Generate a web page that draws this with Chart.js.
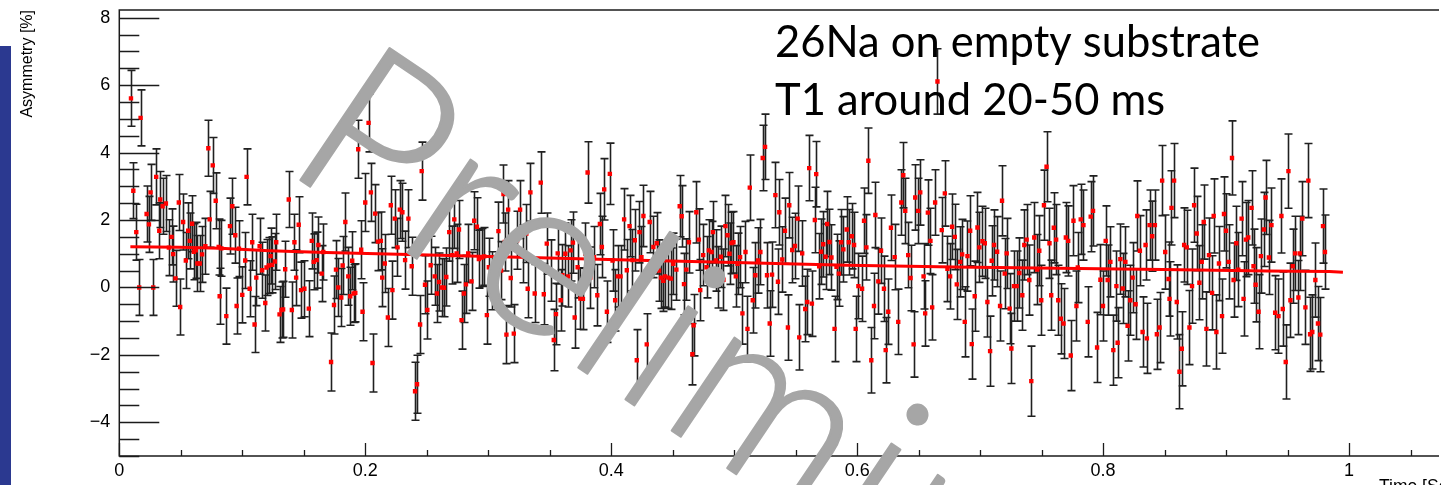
<!DOCTYPE html>
<html>
<head>
<meta charset="utf-8">
<title>26Na asymmetry vs time</title>
<script src="https://cdn.jsdelivr.net/npm/chart.js@4/dist/chart.umd.min.js"></script>
<style>
  html, body { margin: 0; padding: 0; background: #fff; overflow: hidden; }
  canvas { display: block; }
</style>
</head>
<body>
<canvas id="c" width="1441" height="485"></canvas>
<script>
// Bin centres of the asymmetry histogram, in milliseconds
const binTimeMs = [
  9.5,11.4,13.8,16.2,17.3,22.2,24.1,25.4,27.6,30.0,
  32.5,33.3,35.2,37.9,40.3,42.5,43.8,45.7,48.4,49.5,
  51.9,54.1,56.0,57.3,59.2,60.6,62.2,63.5,65.4,67.3,
  70.0,72.4,73.5,76.0,78.4,80.8,81.6,83.0,87.0,90.0,
  91.9,94.3,95.4,97.3,100.0,102.4,103.5,106.0,108.1,110.0,
  111.4,114.1,116.2,118.7,119.7,121.6,123.0,124.3,126.5,127.6,
  130.3,131.9,133.2,134.9,137.8,140.3,142.4,143.8,145.9,147.8,
  150.5,154.1,156.5,158.1,160.5,161.9,164.6,165.9,
  172.2,174.6,176.2,178.1,180.5,181.6,183.8,186.2,187.8,189.4,
  190.5,191.9,194.3,196.7,197.8,200.0,202.7,204.6,205.9,208.1,
  210.3,212.7,213.8,215.9,218.4,220.8,222.1,224.0,226.2,228.1,
  230.2,232.4,235.1,237.8,240.5,242.1,244.6,245.9,248.6,250.5,
  253.2,256.5,258.3,260.0,262.1,264.0,265.9,268.3,270.8,272.4,
  274.3,276.2,278.3,280.2,281.9,283.7,286.4,288.6,290.8,292.4,
  294.6,296.7,298.9,300.5,303.2,308.3,310.5,312.4,313.5,314.8,
  316.2,318.3,320.8,323.5,325.9,328.1,331.0,332.1,334.3,337.8,
  342.7,345.2,347.6,350.8,353.3,355.1,356.5,358.9,360.3,362.7,
  364.9,367.0,368.9,370.3,372.7,374.9,377.0,378.9,380.8,383.0,
  386.0,388.7,390.8,392.4,394.3,396.5,398.9,401.1,403.2,405.4,
  407.6,410.5,412.7,414.9,417.3,419.2,420.8,423.0,424.6,426.2,
  428.9,431.3,434.3,437.0,438.9,440.5,442.4,443.8,446.5,448.6,
  450.5,453.0,455.7,457.3,459.2,461.1,463.2,466.0,467.0,469.2,
  471.3,472.4,474.8,477.5,479.4,481.6,482.7,485.1,487.0,489.2,
  491.3,492.9,494.6,496.2,497.8,499.4,501.3,502.7,504.8,506.7,
  509.2,510.8,
  512.7,515.1,517.2,519.4,521.3,523.2,525.1,526.7,528.9,530.8,
  533.5,535.6,536.7,539.1,541.3,543.7,544.8,547.2,549.4,551.6,
  552.9,555.3,557.8,559.4,561.0,563.2,565.6,566.7,569.1,570.7,
  572.4,574.3,575.6,577.5,579.1,581.6,583.2,585.1,587.0,588.8,
  591.5,593.2,595.6,597.5,598.8,601.0,604.0,605.6,607.5,609.1,
  611.5,613.7,614.8,617.2,619.4,621.8,623.2,625.3,627.5,630.5,
  633.4,635.9,637.5,639.1,641.5,643.4,645.9,647.2,649.6,651.3,
  654.0,655.3,657.5,659.6,661.0,663.4,665.3,668.8,671.3,673.4,
  675.6,677.2,679.4,681.0,
  683.8,685.4,687.5,689.7,691.9,693.2,695.6,697.8,699.4,701.9,
  703.8,705.9,708.1,709.4,711.3,713.8,716.2,717.8,720.0,721.6,
  724.0,725.4,727.5,729.7,731.9,734.3,735.9,737.8,740.0,741.6,
  744.0,746.4,748.1,749.7,751.9,754.0,756.4,757.8,759.9,761.8,
  763.5,765.6,767.8,769.7,771.6,773.7,775.9,778.3,779.4,781.8,
  784.0,787.5,789.9,791.8,795.1,797.8,799.9,802.1,803.7,805.9,
  808.3,810.8,811.8,814.0,815.9,818.1,819.9,822.1,824.0,826.4,
  827.8,829.9,832.1,834.5,835.6,837.8,839.9,842.1,843.7,845.9,
  848.0,850.5,
  853.2,854.0,855.6,857.7,859.9,862.1,864.0,865.9,868.0,870.2,
  872.3,874.0,876.1,878.3,880.2,881.8,884.0,886.1,888.6,889.9,
  892.1,894.2,896.7,898.3,899.9,902.1,904.8,906.1,908.3,909.9,
  912.6,914.2,916.1,918.0,920.7,922.3,924.0,926.4,928.3,930.7,
  932.1,934.8,936.9,939.9,942.6,945.0,946.1,948.5,950.7,952.3,
  954.2,956.1,958.8,959.9,962.0,964.5,966.9,968.3,970.1,972.6,
  974.7,976.6,978.8,980.4
];

// Measured beta asymmetry per bin, in percent
const asymmetry = [
  5.61,2.87,1.64,0,5.03,2.18,1.87,2.82,0,3.28,
  1.68,2.61,2.41,2.49,1.18,1.50,0.99,0.27,2.52,-0.58,
  1.94,0.80,1.68,1.38,1.89,1.06,1.10,0.71,0.71,0.98,
  1.22,4.13,2.02,3.62,2.57,1.20,-0.26,1.16,-0.85,1.82,
  2.41,1.55,-0.55,1.15,-0.22,0.80,3.28,-0.04,1.34,-1.10,
  0.29,1.22,0.51,-0.46,0.59,0.65,0.93,0.67,0.77,1.34,
  -0.80,-0.67,-0.65,0.54,2.61,-0.67,1.34,0.29,1.86,-0.08,
  -0.04,-0.63,1.38,0.76,0.81,1.26,0.41,1.05,
  -2.21,-0.52,0.53,0.00,-0.30,0.65,1.94,0.33,-0.26,0.79,
  -0.18,-0.16,4.10,1.12,-0.72,2.52,4.88,2.82,-2.24,2.19,
  1.36,1.38,0.29,0.71,-0.89,2.44,-0.08,2.04,1.19,2.31,
  2.23,0.81,2.04,0.63,-3.08,-2.87,-1.10,3.45,0.08,-0.67,
  0.66,0.33,-0.18,0.16,0.00,-0.01,0.31,1.64,0.96,2.02,
  1.01,1.72,-0.97,-0.18,0.09,1.01,0.18,1.98,1.80,0.84,
  0.89,0.92,-0.82,0.60,0.20,1.67,0.50,2.77,1.35,-1.40,
  2.31,0.28,-1.37,1.40,2.31,1.00,1.60,-0.04,2.82,-0.18,
  3.11,-0.20,1.30,0.50,-1.56,-0.79,1.01,-0.38,0.36,1.00,
  0.33,1.10,1.33,-0.89,0.60,-0.33,-0.34,1.00,3.41,0.29,
  0.90,-0.23,1.88,1.20,2.91,-0.72,3.37,0.80,-0.38,0.33,
  0.33,2.02,0.51,1.82,0.81,1.40,-2.16,1.64,0.90,2.12,
  -1.69,1.94,1.20,1.31,0.50,0.29,0.20,0.33,0.29,0.26,
  0.70,0.53,2.41,2.11,0.10,0.53,1.34,-1.98,-1.12,2.23,
  1.42,-0.08,0.96,0.60,1.10,1.05,1.64,0.80,0.30,0.91,
  0.23,1.82,1.55,1.00,1.32,1.34,0.33,0.70,0.90,-0.77,
  1.05,-1.23,
  2.96,-0.38,0.36,0.80,1.05,3.84,4.17,0.36,-1.07,0.38,
  2.74,0.17,2.23,0.83,1.68,-1.19,2.44,1.11,1.23,2.04,
  -1.48,1.01,-0.64,-0.43,3.54,-0.48,2.00,3.36,0.63,1.06,
  1.28,0.91,1.88,1.35,0.89,-1.23,0.61,0.41,1.34,1.13,
  1.72,1.34,1.52,1.26,-1.23,0.04,-0.04,1.98,1.19,3.76,
  -2.16,-0.55,2.15,0.18,1.09,-0.04,-1.86,-0.72,1.77,0.90,
  -1.02,2.52,3.33,2.27,0.96,0.28,-1.69,2.67,2.27,2.82,
  0.33,-0.77,2.22,1.38,-0.59,2.52,6.11,1.70,2.79,0.55,
  0.33,1.80,1.50,0.09,
  0.76,0.98,-1.02,0.93,1.68,-1.68,-0.26,1.78,1.19,1.37,
  1.31,-0.43,-1.89,0.79,1.26,1.06,-0.55,2.57,0.41,1.01,
  -0.63,-1.81,0.04,0.04,0.43,-0.23,1.26,1.42,0.22,-2.78,
  1.48,0.53,1.09,-0.38,2.44,3.58,1.31,-0.23,1.77,1.42,
  -0.38,-0.93,-1.07,1.48,1.38,-2.02,1.98,-0.55,0.59,2.02,
  1.85,-1.02,2.10,2.27,-1.78,0.23,-0.55,1.38,0.22,0.76,
  -1.86,0.04,-1.64,0.84,-0.03,0.76,-1.14,-0.38,0.29,-0.50,
  2.12,1.09,-1.32,1.26,-1.51,1.85,1.52,1.85,-1.39,-1.19,
  3.17,1.05,
  0.25,-0.34,2.36,3.17,-0.43,-2.50,-1.82,1.26,1.19,-1.19,
  0.04,2.44,1.60,0.14,0.76,1.94,-1.23,0.96,-0.16,2.12,
  -1.32,0.71,-0.85,2.18,1.68,0.76,3.84,0.22,1.31,0.53,
  2.04,-0.34,1.42,1.48,2.36,0.63,0.08,-0.72,0.93,1.72,
  2.67,0.89,1.85,-0.75,-0.85,2.12,-0.64,-2.21,3.45,-0.38,
  0.63,1.01,-0.30,1.01,2.04,-0.59,3.17,-1.39,-1.32,0.22,
  -1.07,-1.40,1.82,1.05
];

// Statistical error (percent) by time window: window start [s] and error size
const errorWindowStartS = [0, 0.17, 0.34, 0.51, 0.68, 0.85];
const errorWindowValue  = [0.83, 0.86, 0.91, 0.97, 1.04, 1.10];

// Fitted relaxation curve
const fitTimeS = [0.009, 0.049, 0.082, 0.122, 0.168, 0.252, 0.333, 0.422, 0.509, 0.592, 0.679, 0.763, 0.849, 0.933, 0.984, 0.995];
const fitAsym  = [1.21, 1.19, 1.16, 1.09, 1.04, 0.96, 0.89, 0.81, 0.73, 0.66, 0.61, 0.57, 0.53, 0.49, 0.47, 0.45];

// Axis ticks and labels
const xTickValues = [0, 0.2, 0.4, 0.6, 0.8, 1];
const yTickValues = [-4, -2, 0, 2, 4, 6, 8];
const xMinorStep = 0.05;
const yMinorStep = 0.5;
const X_RANGE = [0, 1.0715];
const Y_RANGE = [-5, 8.23];

const titleLines = ['26Na on empty substrate', 'T1 around 20-50 ms'];
const yTitle = 'Asymmetry [%]';
const xTitle = 'Time [Sec]';
const stampText = 'Preliminary';

function errorFor(tSec) {
  let e = errorWindowValue[0];
  errorWindowStartS.forEach((s, i) => { if (tSec >= s) e = errorWindowValue[i]; });
  return e;
}

const n = Math.min(binTimeMs.length, asymmetry.length);
const measured = [];
for (let i = 0; i < n; i++) {
  const t = binTimeMs[i] / 1000;
  measured.push({ x: t, y: asymmetry[i], err: errorFor(t) });
}
const fitPoints = fitTimeS.map((t, i) => ({ x: t, y: fitAsym[i] }));

function fmtTick(v) {
  if (v < 0) return '\u2212' + Math.abs(v);
  return String(v);
}

const INK = '#1b1b1b';

// Vertical error bars with end caps, under the markers
const errorBarPlugin = {
  id: 'errorBars',
  beforeDatasetsDraw(chart) {
    const { ctx, chartArea: a, scales: { x, y } } = chart;
    ctx.save();
    ctx.beginPath();
    ctx.rect(a.left, a.top, a.right - a.left, a.bottom - a.top);
    ctx.clip();
    ctx.strokeStyle = '#202020';
    ctx.lineWidth = 1.6;
    ctx.beginPath();
    for (const p of chart.data.datasets[1].data) {
      const px = Math.round(x.getPixelForValue(p.x)) + 0.5;
      const top = y.getPixelForValue(p.y + p.err);
      const bot = y.getPixelForValue(p.y - p.err);
      ctx.moveTo(px, top); ctx.lineTo(px, bot);
      ctx.moveTo(px - 4, top); ctx.lineTo(px + 4, top);
      ctx.moveTo(px - 4, bot); ctx.lineTo(px + 4, bot);
    }
    ctx.stroke();
    ctx.restore();
  }
};

// Frame and inward-pointing tick marks
const framePlugin = {
  id: 'frame',
  afterDatasetsDraw(chart) {
    const { ctx, chartArea: a, scales: { x, y } } = chart;
    ctx.save();
    ctx.strokeStyle = INK;
    ctx.lineWidth = 1.5;
    ctx.beginPath();
    ctx.moveTo(a.right + 2, a.top); ctx.lineTo(a.left, a.top);
    ctx.lineTo(a.left, a.bottom); ctx.lineTo(a.right + 2, a.bottom);
    ctx.stroke();
    ctx.lineWidth = 1.3;
    ctx.beginPath();
    for (let v = Y_RANGE[0]; v <= Y_RANGE[1] + 1e-9; v += yMinorStep) {
      const major = yTickValues.some(t => Math.abs(t - v) < 1e-6);
      const py = Math.round(y.getPixelForValue(v)) + 0.5;
      ctx.moveTo(a.left, py); ctx.lineTo(a.left + (major ? 40 : 20), py);
    }
    for (let v = X_RANGE[0]; v <= X_RANGE[1] + 1e-9; v += xMinorStep) {
      const major = xTickValues.some(t => Math.abs(t - v) < 1e-6);
      const px = Math.round(x.getPixelForValue(v)) + 0.5;
      ctx.moveTo(px, a.bottom); ctx.lineTo(px, a.bottom - (major ? 13 : 6));
    }
    ctx.stroke();
    ctx.restore();
  }
};

// Side band, axis titles, annotation text and stamp
const decorPlugin = {
  id: 'decor',
  afterDraw(chart) {
    const { ctx } = chart;
    ctx.save();
    ctx.fillStyle = '#2b3990';
    ctx.fillRect(0, 46, 11, 439);

    ctx.fillStyle = '#000';
    ctx.font = '16px "Liberation Sans", Arial, sans-serif';
    ctx.textBaseline = 'alphabetic';
    ctx.save();
    ctx.translate(32, 10);
    ctx.rotate(-Math.PI / 2);
    ctx.textAlign = 'right';
    ctx.fillText(yTitle, 0, 0);
    ctx.restore();
    ctx.textAlign = 'left';
    ctx.font = '17.5px "Liberation Sans", Arial, sans-serif';
    ctx.fillText(xTitle, 1379, 492);

    ctx.font = '43.5px Lato, "Open Sans", sans-serif';
    ctx.fillText(titleLines[0], 775, 57);
    ctx.fillText(titleLines[1], 775, 115);

    ctx.save();
    ctx.fillStyle = '#a6a6a6';
    ctx.strokeStyle = '#a6a6a6';
    ctx.lineWidth = 2.2;
    ctx.lineJoin = 'round';
    ctx.translate(281, 167);
    ctx.rotate(34 * Math.PI / 180);
    ctx.font = '300 225px Lato, "Open Sans", sans-serif';
    if ('letterSpacing' in ctx) ctx.letterSpacing = '7px';
    ctx.fillText(stampText, 0, 0);
    ctx.strokeText(stampText, 0, 0);
    ctx.restore();
    ctx.restore();
  }
};

new Chart(document.getElementById('c'), {
  data: {
    datasets: [
      {
        type: 'line',
        label: 'fit',
        data: fitPoints,
        borderColor: '#ff0000',
        borderWidth: 3,
        pointRadius: 0,
        tension: 0,
        order: 0
      },
      {
        type: 'scatter',
        label: 'asymmetry',
        data: measured,
        pointStyle: 'rect',
        pointRadius: 3.1,
        backgroundColor: '#ff0000',
        borderWidth: 0,
        order: 1
      }
    ]
  },
  options: {
    responsive: false,
    animation: false,
    devicePixelRatio: 1,
    layout: { padding: { left: 0, right: 0, top: 10, bottom: 0 } },
    plugins: { legend: { display: false }, tooltip: { enabled: false } },
    scales: {
      x: {
        type: 'linear',
        min: X_RANGE[0],
        max: X_RANGE[1],
        grid: { display: false, drawTicks: false },
        border: { display: false },
        afterBuildTicks: s => { s.ticks = xTickValues.map(v => ({ value: v })); },
        afterFit: s => { s.height = 29; s.paddingLeft = 0; s.paddingRight = 0; },
        ticks: {
          autoSkip: false, maxRotation: 0, minRotation: 0, padding: 4,
          color: '#000', font: { family: '"Liberation Sans", Arial, sans-serif', size: 18 },
          callback: v => fmtTick(v)
        }
      },
      y: {
        type: 'linear',
        min: Y_RANGE[0],
        max: Y_RANGE[1],
        grid: { display: false, drawTicks: false },
        border: { display: false },
        afterBuildTicks: s => { s.ticks = yTickValues.map(v => ({ value: v })); },
        afterFit: s => { s.width = 119.3; s.paddingTop = 0; s.paddingBottom = 0; },
        ticks: {
          autoSkip: false, padding: 9,
          color: '#000', font: { family: '"Liberation Sans", Arial, sans-serif', size: 18 },
          callback: v => fmtTick(v)
        }
      }
    }
  },
  plugins: [errorBarPlugin, framePlugin, decorPlugin]
});
</script>
</body>
</html>
